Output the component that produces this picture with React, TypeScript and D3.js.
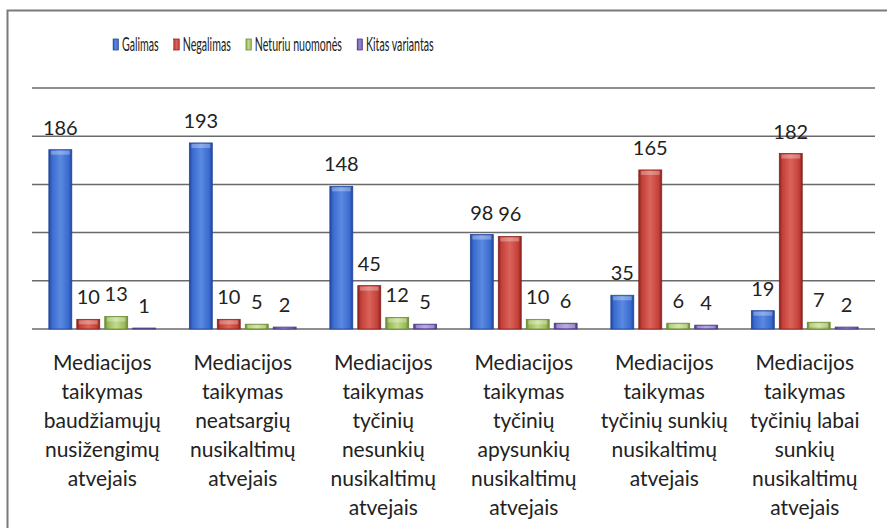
import React, { useEffect, useRef } from "react";
import * as d3 from "d3";

const categories = [
  "Mediacijos\ntaikymas\nbaudžiamųjų\nnusižengimų\natvejais",
  "Mediacijos\ntaikymas\nneatsargių\nnusikaltimų\natvejais",
  "Mediacijos\ntaikymas\ntyčinių\nnesunkių\nnusikaltimų\natvejais",
  "Mediacijos\ntaikymas\ntyčinių\napysunkių\nnusikaltimų\natvejais",
  "Mediacijos\ntaikymas\ntyčinių sunkių\nnusikaltimų\natvejais",
  "Mediacijos\ntaikymas\ntyčinių labai\nsunkių\nnusikaltimų\natvejais",
];
const seriesNames = ["Galimas", "Negalimas", "Neturiu nuomonės", "Kitas variantas"];
const galimas = [186, 193, 148, 98, 35, 19];
const negalimas = [10, 10, 45, 96, 165, 182];
const neturiu = [13, 5, 12, 10, 6, 7];
const kitas = [1, 2, 5, 6, 4, 2];
const seriesValues = [galimas, negalimas, neturiu, kitas];
const gridTicks = [0, 50, 100, 150, 200, 250];

const palette = [
  { base: "#3a6bcf", dark: "#22459c", light: "#5a8ae0" },
  { base: "#c4403a", dark: "#8a231d", light: "#da6459" },
  { base: "#9bbb59", dark: "#6a8934", light: "#c3da8e" },
  { base: "#7462b2", dark: "#4a3b84", light: "#9a89d0" },
];

const W = 887;
const H = 528;
const FONT = "Lato, 'Open Sans', sans-serif";

export default function App() {
  const ref = useRef<SVGSVGElement | null>(null);

  useEffect(() => {
    const svg = d3.select(ref.current);
    svg.selectAll("*").remove();

    const defs = svg.append("defs");
    palette.forEach((c, i) => {
      const g = defs
        .append("linearGradient")
        .attr("id", `grad${i}`)
        .attr("x1", "0")
        .attr("x2", "1")
        .attr("y1", "0")
        .attr("y2", "0");
      g.append("stop").attr("offset", "0%").attr("stop-color", c.dark);
      g.append("stop").attr("offset", "14%").attr("stop-color", c.base);
      g.append("stop").attr("offset", "50%").attr("stop-color", c.light);
      g.append("stop").attr("offset", "86%").attr("stop-color", c.base);
      g.append("stop").attr("offset", "100%").attr("stop-color", c.dark);
    });

    svg.append("rect").attr("width", W).attr("height", H).attr("fill", "#fff");

    // frame
    svg
      .append("path")
      .attr("d", `M7.5,${H} L7.5,10.5 L${W},10.5`)
      .attr("fill", "none")
      .attr("stroke", "#7a7a7a")
      .attr("stroke-width", 2);

    const x0 = d3
      .scaleBand<number>()
      .domain(d3.range(categories.length))
      .range([32, 875])
      .paddingInner(0.24)
      .paddingOuter(0.12);
    const x1 = d3
      .scaleBand<number>()
      .domain(d3.range(seriesNames.length))
      .range([0, x0.bandwidth()])
      .paddingInner(0.18);
    const y = d3.scaleLinear().domain([0, 250]).range([329, 88]);

    // gridlines
    svg
      .append("g")
      .selectAll("line")
      .data(gridTicks)
      .join("line")
      .attr("x1", 32)
      .attr("x2", 875)
      .attr("y1", (d) => y(d))
      .attr("y2", (d) => y(d))
      .attr("stroke", "#6a6a6a")
      .attr("stroke-width", 1.5);

    // bars
    const groups = svg
      .append("g")
      .selectAll("g")
      .data(categories.map((_, i) => i))
      .join("g")
      .attr("transform", (i) => `translate(${x0(i)},0)`);

    groups.each(function (ci) {
      const g = d3.select(this);
      seriesValues.forEach((vals, si) => {
        const v = vals[ci];
        const bx = x1(si)!;
        const bw = x1.bandwidth();
        const top = y(v);
        const h = y(0) - top;
        g.append("rect")
          .attr("x", bx)
          .attr("y", top)
          .attr("width", bw)
          .attr("height", h)
          .attr("fill", `url(#grad${si})`)
          .attr("stroke", palette[si].dark)
          .attr("stroke-width", 0.8);
        g.append("rect")
          .attr("x", bx + 2)
          .attr("y", top + 1)
          .attr("width", bw - 4)
          .attr("height", Math.min(4, Math.max(0, h - 2)))
          .attr("fill", "#ffffff")
          .attr("opacity", 0.3);
        g.append("text")
          .attr("x", bx + bw / 2)
          .attr("y", top - 15)
          .attr("text-anchor", "middle")
          .attr("font-family", FONT)
          .attr("font-size", 20)
          .attr("fill", "#222")
          .text(String(v));
      });
    });

    // category labels
    categories.forEach((c, i) => {
      const cx = x0(i)! + x0.bandwidth() / 2;
      const t = svg
        .append("text")
        .attr("text-anchor", "middle")
        .attr("font-family", FONT)
        .attr("font-size", 21)
        .attr("fill", "#222");
      c.split("\n").forEach((line, li) => {
        t.append("tspan")
          .attr("x", cx)
          .attr("y", 370 + li * 29)
          .text(line);
      });
    });

    // legend (horizontally compressed)
    const sx = 0.56;
    const leg = svg.append("g").attr("transform", `translate(113,0) scale(${sx},1)`);
    let cursor = 0;
    seriesNames.forEach((name, i) => {
      leg
        .append("rect")
        .attr("x", cursor)
        .attr("y", 39)
        .attr("width", 10)
        .attr("height", 11)
        .attr("fill", `url(#grad${i})`)
        .attr("stroke", palette[i].dark)
        .attr("stroke-width", 0.8);
      const t = leg
        .append("text")
        .attr("x", cursor + 16)
        .attr("y", 51)
        .attr("font-family", FONT)
        .attr("font-size", 19)
        .attr("fill", "#222")
        .text(name);
      const tw = (t.node() as SVGTextElement).getComputedTextLength();
      cursor += 16 + tw + 27;
    });
  }, []);

  return (
    <svg
      ref={ref}
      width={W}
      height={H}
      style={{ position: "absolute", left: 0, top: 0 }}
    />
  );
}
